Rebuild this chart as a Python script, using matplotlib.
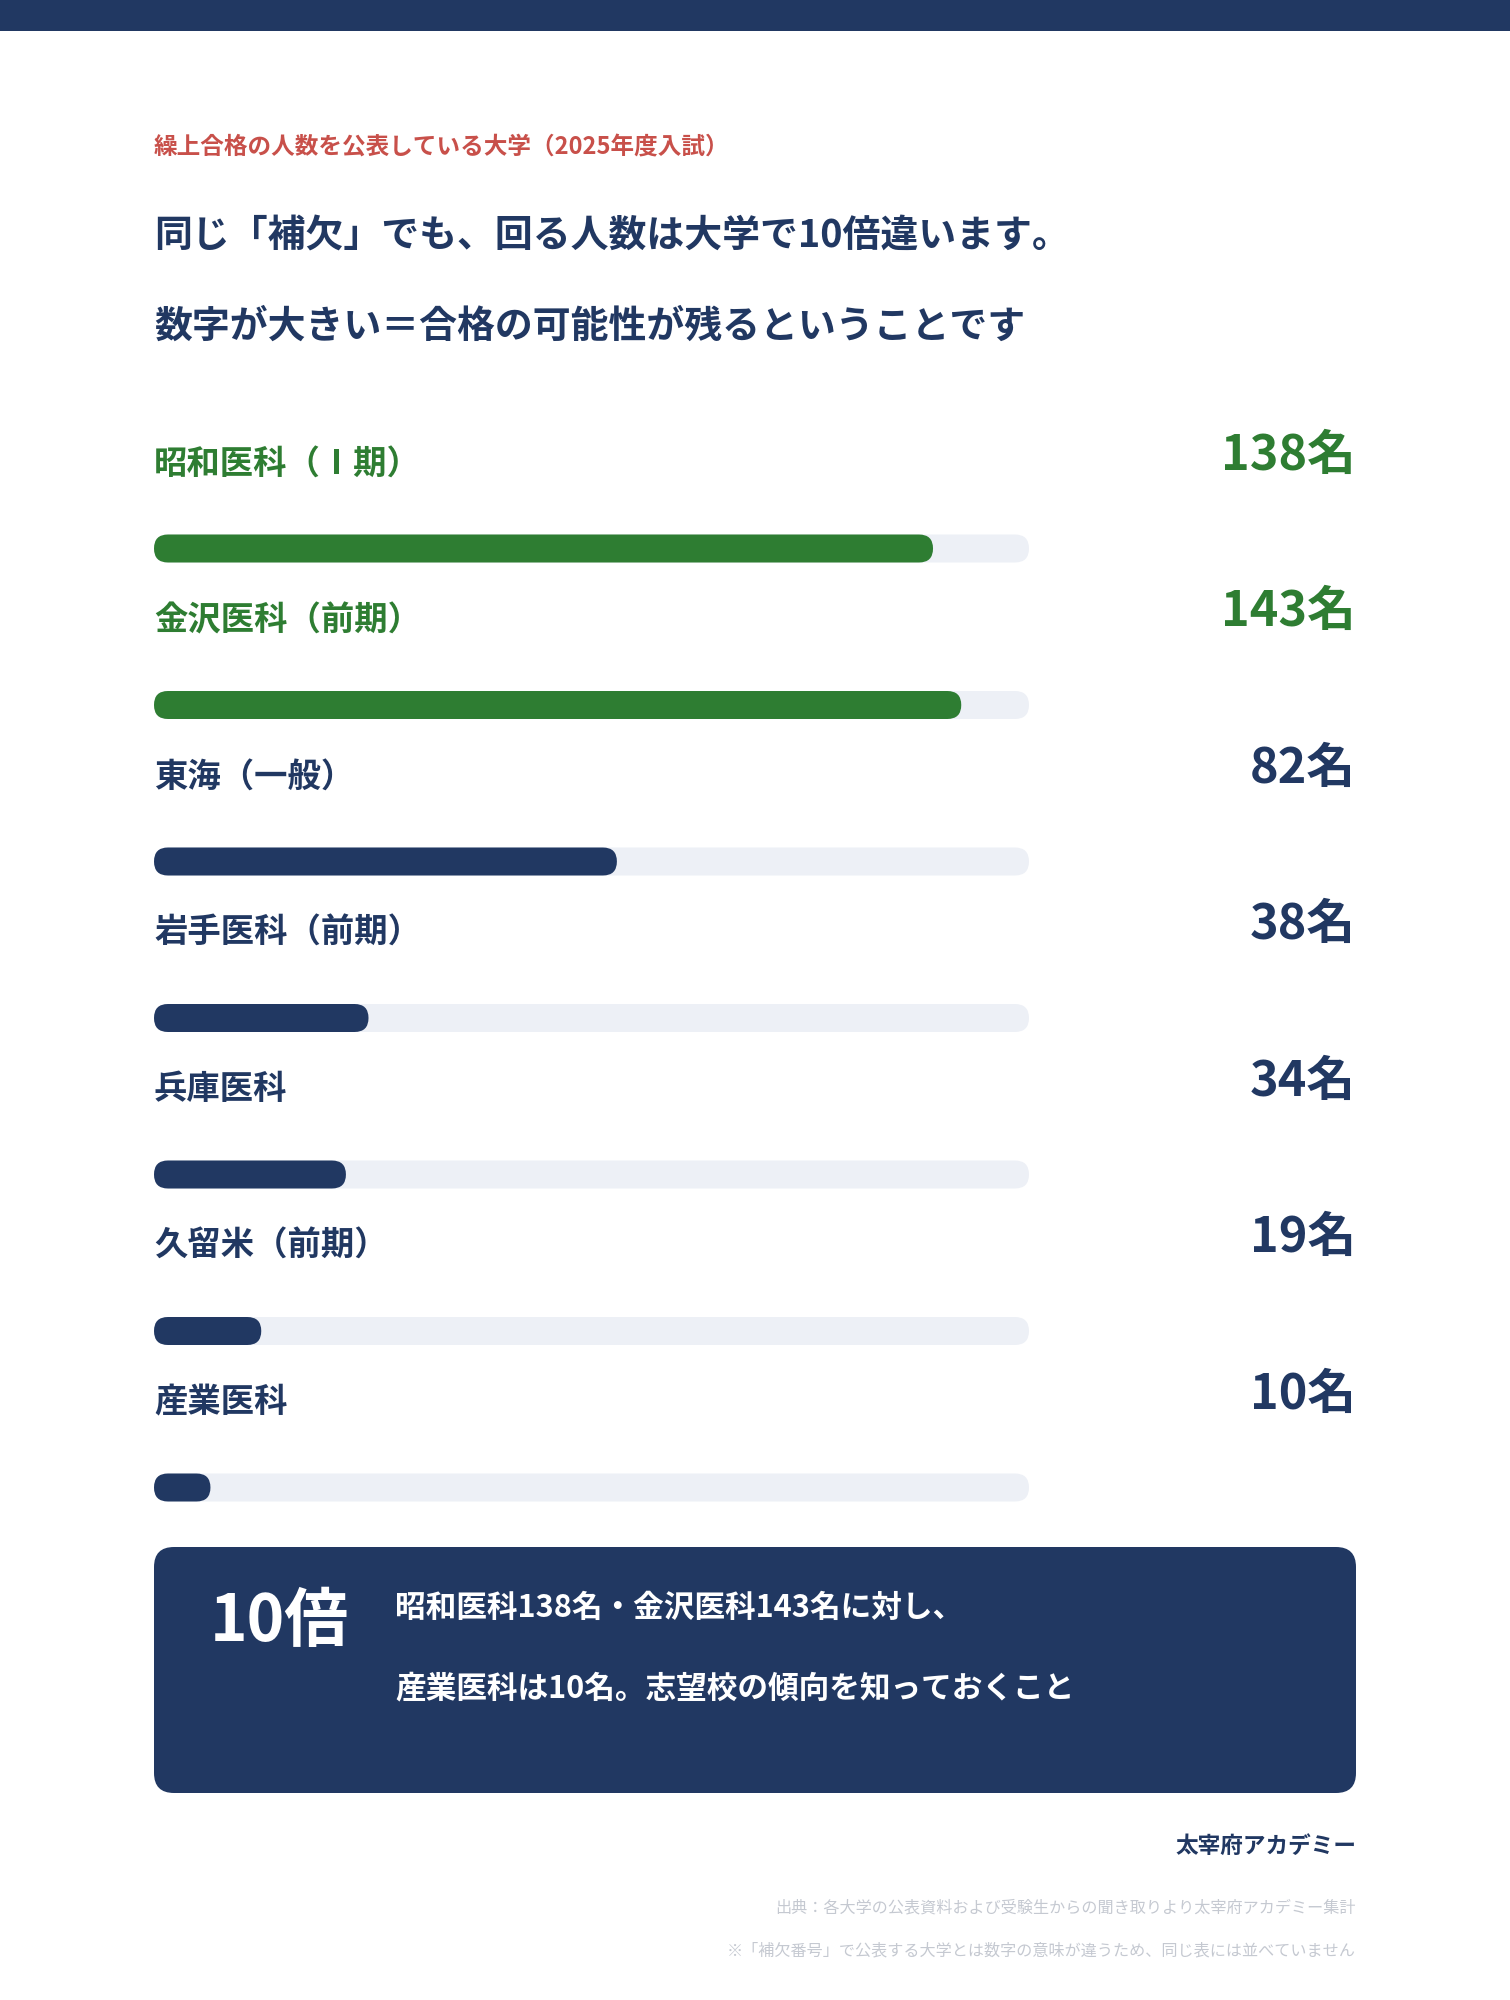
import matplotlib.pyplot as plt
from matplotlib.patches import FancyBboxPatch, Rectangle

plt.rcParams['font.family'] = ['Noto Sans CJK JP', 'DejaVu Sans']

# data
schools = ['昭和医科（Ⅰ期）', '金沢医科（前期）', '東海（一般）', '岩手医科（前期）',
           '兵庫医科', '久留米（前期）', '産業医科']
counts = [138, 143, 82, 38, 34, 19, 10]
highlight = [True, True, False, False, False, False, False]
scale_max = 155

kicker = '繰上合格の人数を公表している大学（2025年度入試）'
headline = ['同じ「補欠」でも、回る人数は大学で10倍違います。',
            '数字が大きい＝合格の可能性が残るということです']
box_big = '10倍'
box_lines = ['昭和医科138名・金沢医科143名に対し、',
             '産業医科は10名。志望校の傾向を知っておくこと']
brand = '太宰府アカデミー'
notes = ['出典：各大学の公表資料および受験生からの聞き取りより太宰府アカデミー集計',
         '※「補欠番号」で公表する大学とは数字の意味が違うため、同じ表には並べていません']

NAVY = '#213862'
GREEN = '#2e7d32'
RED = '#c8504a'
TRACK = '#edf0f6'
GRAY = '#c5c9d1'

W, H = 1510, 2000
fig = plt.figure(figsize=(W / 100, H / 100), dpi=100)
ax = fig.add_axes([0, 0, 1, 1])
ax.set_xlim(0, W)
ax.set_ylim(H, 0)
ax.axis('off')

# top band
ax.add_patch(Rectangle((0, 0), W, 31, color=NAVY, lw=0))

left, right = 154, 1356
ax.text(left, 147, kicker, color=RED, fontsize=17, fontweight='bold', va='center')
ax.text(left, 236, headline[0], color=NAVY, fontsize=27.3, fontweight='bold', va='center')
ax.text(left, 326, headline[1], color=NAVY, fontsize=27.3, fontweight='bold', va='center')

# rows
track_w = 875
bar_h = 28
step = 156.5
for i, (name, n, hi) in enumerate(zip(schools, counts, highlight)):
    col = GREEN if hi else NAVY
    ly = 464 + i * step
    by = 548.5 + i * step
    ax.text(left, ly, name, color=col, fontsize=24, fontweight='bold', va='center')
    ax.text(right, ly - 9, f'{n}名', color=col, fontsize=35, fontweight='bold',
            va='center', ha='right')
    ax.add_patch(FancyBboxPatch((left, by - bar_h / 2), track_w, bar_h,
                                boxstyle=f'round,pad=0,rounding_size={bar_h / 2}',
                                fc=TRACK, ec='none'))
    ax.add_patch(FancyBboxPatch((left, by - bar_h / 2), track_w * n / scale_max, bar_h,
                                boxstyle=f'round,pad=0,rounding_size={bar_h / 2}',
                                fc=col, ec='none'))

# summary box
ax.add_patch(FancyBboxPatch((left, 1547), right - left, 246,
                            boxstyle='round,pad=0,rounding_size=20', fc=NAVY, ec='none'))
ax.text(210, 1622, box_big, color='white', fontsize=46, fontweight='bold', va='center')
ax.text(395, 1608, box_lines[0], color='white', fontsize=22.1, fontweight='bold', va='center')
ax.text(395, 1688, box_lines[1], color='white', fontsize=22.1, fontweight='bold', va='center')

# footer
ax.text(right, 1846, brand, color=NAVY, fontsize=16.3, fontweight='bold', va='center', ha='right')
ax.text(right, 1908, notes[0], color=GRAY, fontsize=11.6, va='center', ha='right')
ax.text(right, 1951, notes[1], color=GRAY, fontsize=11.6, va='center', ha='right')

fig.savefig('out.png', dpi=100, facecolor='white')
